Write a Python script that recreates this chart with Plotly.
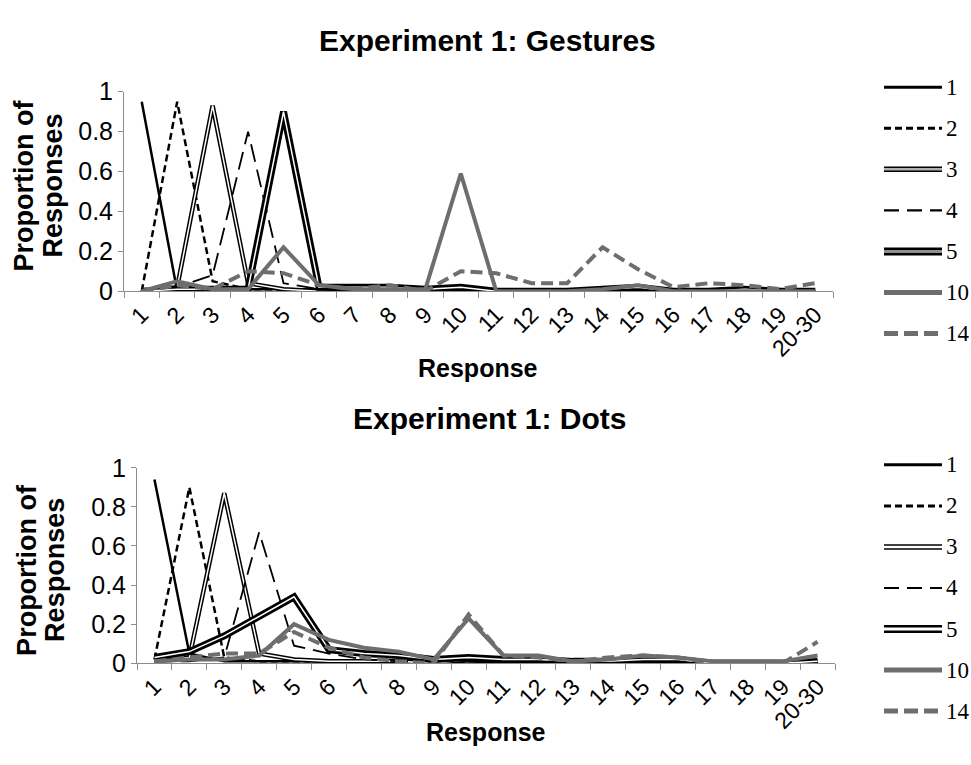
import plotly.graph_objects as go

W, H = 971, 765

categories = ["1", "2", "3", "4", "5", "6", "7", "8", "9", "10",
              "11", "12", "13", "14", "15", "16", "17", "18", "19", "20-30"]
series_names = ["1", "2", "3", "4", "5", "10", "14"]
y_tickvals = [0, 0.2, 0.4, 0.6, 0.8, 1]
y_ticktext = ["0", "0.2", "0.4", "0.6", "0.8", "1"]

# Experiment 1: Gestures
gest_1 = [0.95, 0.00, 0.02, 0.01, 0.01, 0.01, 0.01, 0.01, 0.01, 0.01, 0.00, 0.00, 0.00, 0.00, 0.00, 0.00, 0.00, 0.00, 0.00, 0.00]
gest_2 = [0.00, 0.95, 0.05, 0.01, 0.01, 0.00, 0.00, 0.00, 0.00, 0.01, 0.00, 0.00, 0.00, 0.00, 0.01, 0.00, 0.00, 0.00, 0.00, 0.00]
gest_3 = [0.00, 0.02, 0.93, 0.04, 0.01, 0.00, 0.00, 0.00, 0.00, 0.01, 0.00, 0.00, 0.00, 0.00, 0.01, 0.00, 0.00, 0.00, 0.00, 0.00]
gest_4 = [0.00, 0.02, 0.08, 0.80, 0.04, 0.01, 0.00, 0.00, 0.00, 0.01, 0.00, 0.00, 0.00, 0.00, 0.01, 0.00, 0.00, 0.00, 0.00, 0.00]
gest_5 = [0.00, 0.01, 0.01, 0.01, 0.90, 0.02, 0.02, 0.02, 0.01, 0.02, 0.00, 0.00, 0.00, 0.01, 0.02, 0.00, 0.00, 0.01, 0.00, 0.00]
gest_10 = [0.00, 0.05, 0.01, 0.01, 0.22, 0.03, 0.01, 0.01, 0.01, 0.59, 0.00, 0.00, 0.00, 0.01, 0.03, 0.00, 0.00, 0.00, 0.00, 0.00]
gest_14 = [0.00, 0.03, 0.01, 0.10, 0.09, 0.03, 0.01, 0.03, 0.00, 0.10, 0.09, 0.04, 0.04, 0.22, 0.11, 0.02, 0.04, 0.03, 0.01, 0.04]

# Experiment 1: Dots
dots_1 = [0.94, 0.05, 0.01, 0.01, 0.01, 0.01, 0.00, 0.00, 0.00, 0.01, 0.00, 0.00, 0.00, 0.00, 0.00, 0.00, 0.00, 0.00, 0.00, 0.00]
dots_2 = [0.02, 0.90, 0.03, 0.01, 0.01, 0.01, 0.01, 0.00, 0.00, 0.01, 0.01, 0.00, 0.00, 0.01, 0.01, 0.01, 0.00, 0.00, 0.00, 0.01]
dots_3 = [0.01, 0.03, 0.87, 0.05, 0.02, 0.01, 0.01, 0.01, 0.00, 0.02, 0.01, 0.01, 0.00, 0.01, 0.01, 0.01, 0.00, 0.00, 0.00, 0.01]
dots_4 = [0.01, 0.01, 0.03, 0.67, 0.09, 0.05, 0.02, 0.01, 0.01, 0.03, 0.01, 0.01, 0.00, 0.01, 0.02, 0.01, 0.00, 0.00, 0.00, 0.01]
dots_5 = [0.03, 0.06, 0.14, 0.24, 0.34, 0.07, 0.05, 0.04, 0.02, 0.03, 0.02, 0.02, 0.01, 0.01, 0.02, 0.02, 0.00, 0.00, 0.00, 0.01]
dots_10 = [0.01, 0.02, 0.02, 0.04, 0.20, 0.12, 0.08, 0.06, 0.02, 0.23, 0.04, 0.04, 0.01, 0.02, 0.04, 0.03, 0.01, 0.01, 0.01, 0.04]
dots_14 = [0.01, 0.03, 0.05, 0.05, 0.16, 0.08, 0.03, 0.01, 0.00, 0.25, 0.04, 0.03, 0.01, 0.03, 0.04, 0.03, 0.00, 0.00, 0.00, 0.11]

GREY = "#6e6e6e"
AXIS = "#8c8c8c"
SANS = "Liberation Sans, Arial, sans-serif"
SERIF = "Liberation Serif, DejaVu Serif, serif"


def px_x(p):
    return p / W


def px_y(p):
    return 1 - p / H


# outer style, inner style (for double lines) or None
styles = {
    "1": (dict(color="black", width=2.5), None),
    "2": (dict(color="black", width=2.5, dash="7px,4px"), None),
    "3": (dict(color="black", width=4.5), dict(color="white", width=1.5)),
    "4": (dict(color="black", width=1.8, dash="18px,8px"), None),
    "5": (dict(color="black", width=7), dict(color="white", width=1.5)),
    "10": (dict(color=GREY, width=4), None),
    "14": (dict(color=GREY, width=4, dash="12px,6px"), None),
}

fig = go.Figure()

panels = [
    ("x", "y", [gest_1, gest_2, gest_3, gest_4, gest_5, gest_10, gest_14]),
    ("x2", "y2", [dots_1, dots_2, dots_3, dots_4, dots_5, dots_10, dots_14]),
]
for xa, ya, data in panels:
    for name, vals in zip(series_names, data):
        outer, inner = styles[name]
        fig.add_trace(go.Scatter(x=categories, y=vals, mode="lines", name=name,
                                 line=outer, xaxis=xa, yaxis=ya, showlegend=False,
                                 hoverinfo="skip"))
        if inner is not None:
            fig.add_trace(go.Scatter(x=categories, y=vals, mode="lines", name=name,
                                     line=inner, xaxis=xa, yaxis=ya, showlegend=False,
                                     hoverinfo="skip"))

xaxis_common = dict(type="category", categoryorder="array", categoryarray=categories,
                    range=[-0.5, len(categories) - 0.5],
                    showline=True, linecolor=AXIS, linewidth=1,
                    ticks="outside", tickson="boundaries", ticklen=6, tickcolor=AXIS,
                    tickangle=-45, tickfont=dict(family=SANS, size=23, color="black"),
                    showgrid=False, zeroline=False, fixedrange=True)
yaxis_common = dict(range=[0, 1], tickvals=y_tickvals, ticktext=y_ticktext,
                    showline=True, linecolor=AXIS, linewidth=1,
                    ticks="outside", ticklen=5, tickcolor=AXIS,
                    tickfont=dict(family=SANS, size=25, color="black"),
                    showgrid=False, zeroline=False, fixedrange=True)

fig.update_layout(
    width=W, height=H, autosize=False,
    margin=dict(l=0, r=0, t=0, b=0),
    paper_bgcolor="white", plot_bgcolor="white",
    showlegend=False,
    xaxis=dict(xaxis_common, domain=[px_x(124), px_x(833)], anchor="y"),
    yaxis=dict(yaxis_common, domain=[px_y(287.7), px_y(80.7)], anchor="x"),
    xaxis2=dict(xaxis_common, domain=[px_x(137), px_x(835)], anchor="y2"),
    yaxis2=dict(yaxis_common, domain=[px_y(674), px_y(471)], anchor="x2"),
)

annotations = []
shapes = []

# titles and axis titles
for text, cx, cy in [("Experiment 1: Gestures", 488, 28), ("Experiment 1: Dots", 490, 420)]:
    annotations.append(dict(text=f"<b>{text}</b>", x=px_x(cx), y=px_y(cy), xref="paper", yref="paper",
                            xanchor="center", yanchor="middle", showarrow=False,
                            font=dict(family=SANS, size=30, color="black")))
for cx, cy in [(478, 367), (486, 745)]:
    annotations.append(dict(text="<b>Response</b>", x=px_x(cx), y=px_y(cy), xref="paper", yref="paper",
                            xanchor="center", yanchor="middle", showarrow=False,
                            font=dict(family=SANS, size=25, color="black")))
for line_text, cx, cy in [("Proportion of", 24, 178), ("Responses", 53, 178),
                          ("Proportion of", 27, 577), ("Responses", 55, 577)]:
    annotations.append(dict(text=f"<b>{line_text}</b>", x=px_x(cx), y=px_y(cy),
                            xref="paper", yref="paper", xanchor="center", yanchor="middle",
                            showarrow=False, textangle=-90,
                            font=dict(family=SANS, size=27, color="black")))

# manual legends (double-line styles cannot be shown by the built-in legend)
legend_styles = {
    "1": [dict(color="black", width=3)],
    "2": [dict(color="black", width=3, dash="7px,4px")],
    "3": [dict(color="black", width=5.5), dict(color="#b0b0b0", width=2.5)],
    "4": [dict(color="black", width=2.2, dash="15px,8px")],
    "5": [dict(color="black", width=8), dict(color="#909090", width=3)],
    "10": [dict(color=GREY, width=5)],
    "14": [dict(color=GREY, width=5, dash="14px,6px")],
}
legend_styles_bottom = dict(legend_styles)
legend_styles_bottom["3"] = [dict(color="black", width=5.5), dict(color="white", width=2.5)]
legend_styles_bottom["5"] = [dict(color="black", width=8), dict(color="white", width=3)]

for y0, lstyles in [(76, legend_styles), (468, legend_styles_bottom)]:
    for i, name in enumerate(series_names):
        yy = y0 + i * 42.6
        for st in lstyles[name]:
            shapes.append(dict(type="line", xref="paper", yref="paper",
                               x0=px_x(884), x1=px_x(942), y0=px_y(yy), y1=px_y(yy),
                               line=st, layer="above"))
        annotations.append(dict(text=name, x=px_x(944), y=px_y(yy), xref="paper", yref="paper",
                                xanchor="left", yanchor="middle", showarrow=False,
                                font=dict(family=SERIF, size=23, color="black")))

fig.update_layout(annotations=annotations, shapes=shapes)

fig.write_html("out.html")
